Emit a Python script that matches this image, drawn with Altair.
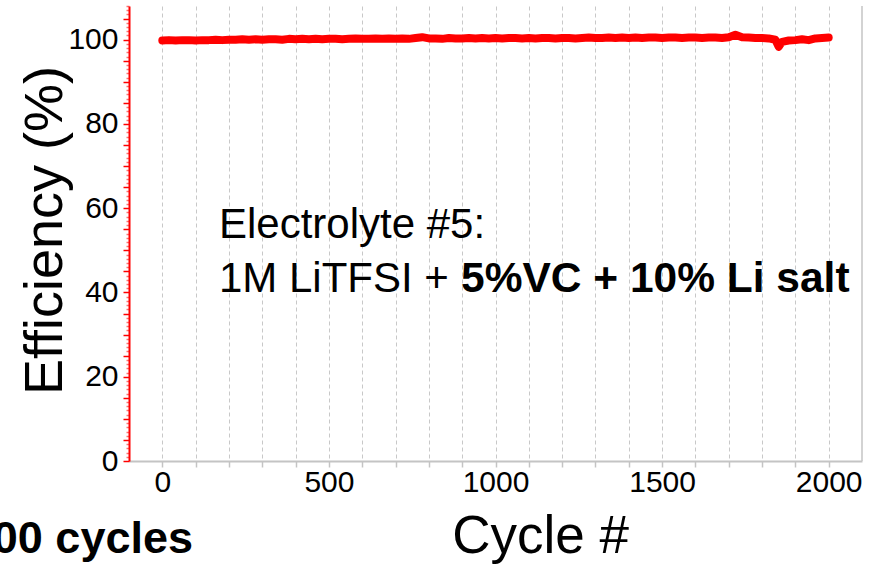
import altair as alt
import pandas as pd

# ---------------- data ----------------
cycles = [0, 20, 40, 60, 80, 100, 120, 140, 160, 180,
          200, 220, 240, 260, 280, 300, 320, 340, 360, 380,
          400, 420, 440, 460, 480, 500, 520, 540, 560, 580,
          600, 620, 640, 660, 680, 700, 720, 740, 760, 780,
          800, 820, 840, 860, 880, 900, 920, 940, 960, 980,
          1000, 1020, 1040, 1060, 1080, 1100, 1120, 1140, 1160, 1180,
          1200, 1220, 1240, 1260, 1280, 1300, 1320, 1340, 1360, 1380,
          1400, 1420, 1440, 1460, 1480, 1500, 1520, 1540, 1560, 1580,
          1600, 1620, 1640, 1660, 1680, 1700, 1720, 1740, 1760, 1780,
          1800, 1820, 1840, 1850, 1860, 1880, 1900, 1920, 1940, 1960, 1980,
          2000]
efficiency = [99.8, 99.9, 99.8, 99.9, 99.9, 99.8, 99.9, 99.9, 100.0, 99.9,
              100.0, 100.0, 100.1, 100.0, 100.1, 100.0, 100.1, 100.1, 100.0, 100.2,
              100.1, 100.2, 100.1, 100.2, 100.1, 100.2, 100.2, 100.1, 100.2, 100.3,
              100.2, 100.2, 100.3, 100.2, 100.3, 100.2, 100.3, 100.2, 100.4, 100.6,
              100.3, 100.3, 100.2, 100.4, 100.3, 100.3, 100.4, 100.3, 100.4, 100.3,
              100.4, 100.3, 100.4, 100.4, 100.3, 100.4, 100.3, 100.4, 100.4, 100.3,
              100.4, 100.4, 100.3, 100.4, 100.5, 100.4, 100.4, 100.5, 100.4, 100.5,
              100.4, 100.5, 100.4, 100.5, 100.5, 100.4, 100.5, 100.5, 100.4, 100.5,
              100.5, 100.4, 100.5, 100.5, 100.4, 100.6, 101.2, 100.6, 100.5, 100.4,
              100.4, 100.3, 100.0, 98.3, 99.5, 99.8, 99.9, 100.1, 99.9, 100.3, 100.4,
              100.5]

x_tick_values = [0, 100, 200, 300, 400, 500, 600, 700, 800, 900, 1000,
                 1100, 1200, 1300, 1400, 1500, 1600, 1700, 1800, 1900, 2000]
y_tick_values = list(range(0, 109))

x_domain = [-100, 2100]
y_domain = [0, 108]

annot_line1 = "Electrolyte #5:"
annot_line2_normal = "1M LiTFSI + "
annot_line2_bold = "5%VC + 10% Li salt"
cut_text = "2000 cycles"

df = pd.DataFrame({"cycle": cycles, "eff": efficiency})

FONT = "Liberation Sans"
RED = "#ff0000"
GRAY = "#c4c4c4"

W, H = 733, 455

xscale = alt.Scale(domain=x_domain, nice=False, zero=False)
yscale = alt.Scale(domain=y_domain, nice=False, zero=False)

x_axis = alt.Axis(
    values=x_tick_values,
    tickCount=500,
    labelExpr="datum.value % 500 === 0 ? datum.label : ''",
    format="d",
    labelFontSize=30,
    labelColor="#000000",
    labelPadding=0,
    labelFlush=False,
    labelOverlap=False,
    tickColor=GRAY,
    tickSize=6,
    tickWidth=1.5,
    domainColor=GRAY,
    domainWidth=2,
    grid=True,
    gridColor="#c8c8c8",
    gridDash=[4, 3],
    gridWidth=1,
    title="Cycle #",
    titleFontSize=53,
    titleFontWeight="normal",
    titleColor="#000000",
    titleX=411,
    titleY=91,
    titleBaseline="alphabetic",
    titleAlign="center",
)

y_axis = alt.Axis(
    values=y_tick_values,
    tickCount=500,
    format="d",
    labelExpr="datum.value % 20 === 0 ? datum.label : ''",
    labelFontSize=30,
    labelColor="#000000",
    labelPadding=5,
    labelOverlap=False,
    labelFlush=False,
    tickSize={"condition": {"test": "datum.value % 5 === 0", "value": 6}, "value": 3},
    tickColor={"condition": {"test": "datum.value % 5 === 0", "value": RED}, "value": "#ff7070"},
    tickWidth=1.5,
    domainColor=RED,
    domainWidth=2,
    grid=False,
    title="Efficiency (%)",
    titleFontSize=54,
    titleFontWeight="normal",
    titleColor="#000000",
    titleAngle=-90,
    titleX=-68,
    titleY=224,
    titleBaseline="alphabetic",
    titleAlign="center",
)

line = alt.Chart(df).mark_line(
    color=RED, strokeWidth=8, strokeCap="round", strokeJoin="round", clip=False
).encode(
    x=alt.X("cycle:Q", scale=xscale, axis=x_axis),
    y=alt.Y("eff:Q", scale=yscale, axis=y_axis),
)

border = alt.Chart(pd.DataFrame({"x": [x_domain[1]]})).mark_rule(
    color=GRAY, strokeWidth=1.5
).encode(x=alt.X("x:Q", scale=xscale))

t1 = alt.Chart(pd.DataFrame({"t": [annot_line1]})).mark_text(
    font=FONT, fontSize=42, align="left", baseline="alphabetic", color="#000000"
).encode(x=alt.value(90), y=alt.value(232), text="t:N")

t2 = alt.Chart(pd.DataFrame({"t": [annot_line2_normal]})).mark_text(
    font=FONT, fontSize=42, align="left", baseline="alphabetic", color="#000000"
).encode(x=alt.value(90), y=alt.value(286), text="t:N")

t3 = alt.Chart(pd.DataFrame({"t": [annot_line2_bold]})).mark_text(
    font=FONT, fontSize=42.5, fontWeight="bold", align="left", baseline="alphabetic", color="#000000"
).encode(x=alt.value(332), y=alt.value(286), text="t:N")

t4 = alt.Chart(pd.DataFrame({"t": [cut_text]})).mark_text(
    font=FONT, fontSize=45, fontWeight="bold", align="right", baseline="alphabetic", color="#000000"
).encode(x=alt.value(64), y=alt.value(547), text="t:N")

chart = alt.layer(border, line, t1, t2, t3, t4).properties(
    width=W,
    height=H,
    autosize=alt.AutoSizeParams(type="none"),
    padding={"left": 129, "top": 6, "right": 878 - 129 - W, "bottom": 564 - 6 - H},
    background="#ffffff",
).configure(
    font=FONT,
).configure_view(
    stroke=None,
)

chart.save("out.html", embed_options={"renderer": "svg", "actions": False})
